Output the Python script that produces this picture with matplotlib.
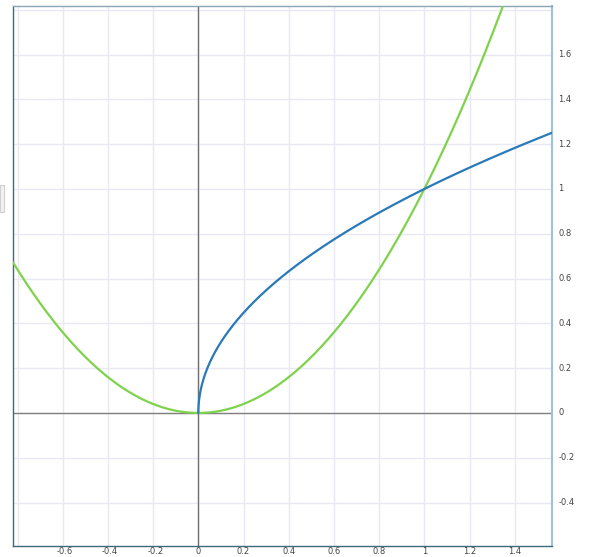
import numpy as np
import matplotlib
matplotlib.use("Agg")
import matplotlib.pyplot as plt
from matplotlib.patches import Rectangle

# Data: the two plotted functions
x_min, x_max = -0.82, 1.565
y_min, y_max = -0.594, 1.817
x_ticks = [-0.6, -0.4, -0.2, 0, 0.2, 0.4, 0.6, 0.8, 1, 1.2, 1.4]
x_tick_labels = ["-0.6", "-0.4", "-0.2", "0", "0.2", "0.4", "0.6", "0.8", "1", "1.2", "1.4"]
y_ticks = [-0.4, -0.2, 0, 0.2, 0.4, 0.6, 0.8, 1, 1.2, 1.4, 1.6]
y_tick_labels = ["-0.4", "-0.2", "0", "0.2", "0.4", "0.6", "0.8", "1", "1.2", "1.4", "1.6"]
grid_x = [-0.8, -0.6, -0.4, -0.2, 0, 0.2, 0.4, 0.6, 0.8, 1, 1.2, 1.4]
grid_y = [-0.4, -0.2, 0, 0.2, 0.4, 0.6, 0.8, 1, 1.2, 1.4, 1.6, 1.8]

x_sq = np.linspace(x_min, x_max, 600)
y_sq = x_sq ** 2
x_rt = np.linspace(0, x_max, 2000) ** 2 / x_max  # denser near zero
y_rt = np.sqrt(x_rt)

W, H = 601, 557
fig = plt.figure(figsize=(W / 100, H / 100), dpi=100)
ax = fig.add_axes([13 / W, (H - 546) / H, (552 - 13) / W, (546 - 6) / H])
ax.set_xlim(x_min, x_max)
ax.set_ylim(y_min, y_max)

for gx in grid_x:
    ax.axvline(gx, color="#e9e9f4", lw=1.0, zorder=0)
for gy in grid_y:
    ax.axhline(gy, color="#e9e9f4", lw=1.0, zorder=0)
ax.axvline(0, color="#707070", lw=1.0, zorder=1)
ax.axhline(0, color="#808080", lw=1.0, zorder=1)

ax.plot(x_sq, y_sq, color="#7fd24b", lw=1.6, zorder=3, solid_capstyle="round")
ax.plot(x_rt, y_rt, color="#2a79b8", lw=1.6, zorder=4, solid_capstyle="round")

ax.set_xticks([])
ax.set_yticks([])
for s in ["left", "bottom"]:
    ax.spines[s].set_color("#3d6b7a")
    ax.spines[s].set_linewidth(1.0)
ax.spines["top"].set_color("#8aa4b8")
ax.spines["top"].set_linewidth(1.0)
ax.spines["right"].set_color("#9cc2de")
ax.spines["right"].set_linewidth(1.5)

for t, lab in zip(x_ticks, x_tick_labels):
    ax.annotate(lab, xy=(t, 0), xycoords=("data", "axes fraction"),
                xytext=(1.5 if lab.startswith("-") else 0, -4.3), textcoords="offset points",
                ha="center", va="center", fontsize=6.0, color="#444444")
for t, lab in zip(y_ticks, y_tick_labels):
    ax.annotate(lab, xy=(1, t), xycoords=("axes fraction", "data"),
                xytext=(4.5, 0), textcoords="offset points",
                ha="left", va="center", fontsize=6.0, color="#444444")

# small tab at left edge
fig.patches.append(Rectangle((0, (H - 212) / H), 4 / W, 27 / H, transform=fig.transFigure,
                             facecolor="#f2f2f2", edgecolor="#d0d0d0", lw=0.8))

fig.savefig("out.png", dpi=100)
